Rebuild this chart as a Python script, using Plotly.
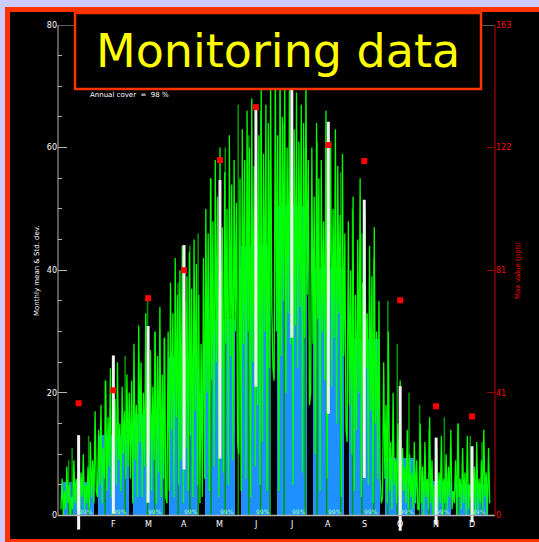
import plotly.graph_objects as go

# ---- data -------------------------------------------------------------
months = ["J", "F", "M", "A", "M", "J", "J", "A", "S", "O", "N", "D"]
month_mid_day = [15.5, 45.0, 74.5, 105.0, 135.5, 166.0, 196.5, 227.5, 258.0, 288.5, 319.0, 349.5]
monthly_mean = [5.4, 13.2, 16.5, 25.8, 32.0, 44.0, 50.5, 40.4, 28.8, 9.3, 5.6, 5.1]
monthly_std = [7.7, 12.9, 14.4, 18.3, 22.7, 23.0, 21.5, 23.8, 22.7, 11.8, 7.1, 6.2]
monthly_max_ppb = [37.3, 41.6, 72.2, 81.5, 118.1, 135.7, 152.0, 123.1, 117.8, 71.5, 36.3, 32.9]
monthly_cover = ["99%"] * 12
annual_cover = 98

# daily values (left scale)
jan = [1, 6, 0, 4, 1, 8, 2, 5, 0, 3, 1, 9, 2, 6, 1, 4, 0, 7, 3, 10, 1, 5, 2, 8, 1, 12, 3, 9, 2, 17, 4]
feb = [3, 14, 5, 18, 2, 11, 6, 22, 4, 16, 8, 24, 3, 13, 7, 19, 5, 25, 9, 15, 4, 21, 10, 17, 6, 23, 8, 20]
mar = [6, 22, 2, 28, 9, 18, 3, 31, 12, 25, 3, 20, 8, 33, 2, 24, 10, 27, 4, 21, 9, 30, 2, 26, 7, 34, 3, 23, 6, 29, 3]
apr = [2, 30, 4, 38, 14, 33, 3, 42, 16, 36, 5, 40, 9, 44, 2, 35, 11, 39, 4, 43, 13, 37, 3, 45, 17, 41, 5, 36, 2, 28]
may = [3, 42, 6, 50, 20, 46, 4, 55, 22, 48, 8, 58, 25, 52, 3, 60, 24, 47, 7, 56, 28, 50, 5, 62, 26, 54, 9, 58, 30, 51, 12]
jun = [10, 55, 4, 63, 28, 58, 6, 66, 30, 60, 3, 68, 25, 57, 8, 65, 18, 62, 5, 70, 12, 59, 30, 67, 4, 64, 24, 71, 34, 24]
jul = [22, 74, 30, 62, 4, 76, 26, 65, 35, 72, 20, 60, 33, 70, 28, 66, 5, 63, 31, 69, 24, 61, 34, 67, 7, 64, 29, 71, 36, 58, 18]
aug = [20, 60, 28, 52, 10, 64, 32, 55, 4, 58, 30, 48, 22, 66, 6, 54, 35, 61, 21, 50, 29, 63, 15, 57, 33, 49, 3, 59, 26, 46, 14]
sep = [12, 48, 18, 40, 10, 52, 4, 36, 14, 45, 20, 55, 3, 38, 16, 50, 24, 33, 5, 44, 17, 39, 2, 47, 15, 30, 6, 35, 6, 2]
oct_ = [3, 25, 6, 18, 2, 30, 4, 12, 1, 20, 5, 9, 2, 15, 3, 22, 1, 11, 4, 8, 2, 14, 1, 10, 3, 7, 1, 12, 2, 9, 1]
nov = [1, 15, 2, 8, 0, 12, 3, 6, 1, 16, 2, 9, 0, 5, 3, 11, 1, 7, 2, 13, 0, 6, 2, 10, 1, 8, 3, 14, 1, 4]
dec = [2, 9, 0, 15, 3, 6, 1, 11, 2, 7, 0, 13, 1, 5, 3, 10, 2, 8, 0, 12, 1, 6, 2, 9, 1, 14, 3, 7, 0, 11, 2]

# isolated peaks of the second (dark green) record
spike_day = [7, 10, 24, 38, 45, 55, 74, 80, 88, 100, 110, 117, 128, 140, 151, 160, 170, 178,
             190, 208, 218, 226, 238, 248, 256, 266, 278, 286, 296, 305, 313, 326, 338, 348, 358]
spike_val = [9, 11, 13, 22, 18, 26, 35, 30, 29, 38, 44, 46, 55, 60, 67, 62, 66, 58,
             64, 60, 61, 58, 56, 50, 46, 42, 35, 28, 20, 18, 14, 16, 15, 13, 12]

left_ticks = [0, 20, 40, 60, 80]
right_tickvals = [0, 40.75, 81.5, 122.25, 163]
right_ticktext = ["0", "41", "81", "122", "163"]

# ---- geometry ---------------------------------------------------------
W, H = 539, 542
ML, MR, MT, MB = 58, 44, 25, 2
PW, PH = W - ML - MR, H - MT - MB


def px_x(px):
    return (px - ML) / PW


def px_y(py):
    return (H - MB - py) / PH


daily = jan + feb + mar + apr + may + jun + jul + aug + sep + oct_ + nov + dec
daily_x = [i + 0.5 for i in range(len(daily))]

spike_x, spike_y = [], []
for d, v in zip(spike_day, spike_val):
    spike_x += [d, d, None]
    spike_y += [0, v, None]

std_x, std_y = [], []
for m, mu, sd in zip(month_mid_day, monthly_mean, monthly_std):
    std_x += [m, m, None]
    std_y += [mu - sd, mu + sd, None]

fig = go.Figure()
fig.add_trace(go.Bar(x=month_mid_day, y=monthly_mean, width=26,
                     marker=dict(color="#1e90ff", line=dict(width=0)), hoverinfo="skip"))
fig.add_trace(go.Scatter(x=spike_x, y=spike_y, mode="lines",
                         line=dict(color="#009a00", width=1.5), hoverinfo="skip"))
fig.add_trace(go.Scatter(x=daily_x, y=daily, mode="lines",
                         line=dict(color="#00ff00", width=1.3), hoverinfo="skip"))
fig.add_trace(go.Scatter(x=std_x, y=std_y, mode="lines",
                         line=dict(color="#f2f2f2", width=3), hoverinfo="skip"))
fig.add_trace(go.Scatter(x=month_mid_day, y=monthly_max_ppb, yaxis="y2", mode="markers",
                         marker=dict(symbol="square", size=6, color="#ff0000"), hoverinfo="skip"))

axis_grey = "#b4b4b4"
shapes = [
    # outer black panel with red frame
    dict(type="rect", xref="paper", yref="paper", x0=px_x(7.5), x1=px_x(570),
         y0=px_y(541.5), y1=px_y(9.5), fillcolor="#000000",
         line=dict(color="#ff3300", width=5), layer="below"),
    # axis frame
    dict(type="line", xref="paper", yref="y", x0=0, x1=0, y0=0, y1=80,
         line=dict(color=axis_grey, width=1), layer="above"),
    dict(type="line", xref="paper", yref="y", x0=0, x1=1, y0=0, y1=0,
         line=dict(color=axis_grey, width=1.5), layer="above"),
    dict(type="line", xref="paper", yref="y", x0=0, x1=1, y0=80, y1=80,
         line=dict(color=axis_grey, width=1), layer="above"),
    dict(type="line", xref="paper", yref="y", x0=1, x1=1, y0=0, y1=80,
         line=dict(color="#a00000", width=1.2), layer="above"),
    # title box
    dict(type="rect", xref="paper", yref="paper", x0=px_x(75), x1=px_x(481),
         y0=px_y(89), y1=px_y(13), fillcolor="#000000",
         line=dict(color="#ff3300", width=2.5), layer="above"),
]

small = "DejaVu Sans"
annotations = [
    dict(text="Monitoring data", xref="paper", yref="paper", x=px_x(277.5), y=px_y(51),
         xanchor="center", yanchor="middle", showarrow=False,
         font=dict(family="DejaVu Sans", size=46, color="#ffff00")),
    dict(text=f"Annual cover  =  {annual_cover} %", xref="paper", yref="paper",
         x=px_x(88), y=px_y(95), xanchor="left", yanchor="middle", showarrow=False,
         font=dict(family=small, size=7, color="#ffffff")),
    dict(text="Monthly mean & Std. dev.", xref="paper", yref="paper",
         x=px_x(37), y=px_y(271), textangle=-90, xanchor="center", yanchor="middle",
         showarrow=False, font=dict(family=small, size=7, color="#ffffff")),
    dict(text="Max value (ppb)", xref="paper", yref="paper",
         x=px_x(518), y=px_y(271), textangle=-90, xanchor="center", yanchor="middle",
         showarrow=False, font=dict(family=small, size=7, color="#ff0000")),
]
for m, lab in zip(month_mid_day, months):
    annotations.append(dict(text=lab, xref="x", yref="paper", x=m, y=px_y(524),
                            xanchor="center", yanchor="middle", showarrow=False,
                            font=dict(family=small, size=8, color="#ffffff")))
for m, c in zip(month_mid_day, monthly_cover):
    annotations.append(dict(text=c, xref="x", yref="y", x=m + 6, y=0.7,
                            xanchor="center", yanchor="middle", showarrow=False,
                            font=dict(family=small, size=6, color="#a8ffa8")))

fig.update_layout(
    template="none",
    width=W, height=H,
    margin=dict(l=ML, r=MR, t=MT, b=MB, pad=0),
    paper_bgcolor="#ccccff",
    plot_bgcolor="#000000",
    showlegend=False,
    bargap=0,
    xaxis=dict(range=[-2, 369], showgrid=False, zeroline=False, showline=False,
               showticklabels=False, ticks="", automargin=False),
    yaxis=dict(range=[-4, 80], tickvals=left_ticks, ticks="inside", ticklen=9,
               tickcolor=axis_grey, tickwidth=1,
               minor=dict(tick0=0, dtick=5, ticks="inside", ticklen=4, tickcolor=axis_grey),
               tickfont=dict(family=small, size=8, color="#ffffff"),
               showgrid=False, zeroline=False, showline=False, automargin=False),
    yaxis2=dict(range=[-8.15, 163], overlaying="y", side="right",
                tickvals=right_tickvals, ticktext=right_ticktext, ticks="inside",
                ticklen=8, tickcolor="#a00000",
                tickfont=dict(family=small, size=8, color="#ff0000"),
                showgrid=False, zeroline=False, showline=False, automargin=False),
    shapes=shapes,
    annotations=annotations,
)

fig.write_html("out.html")
